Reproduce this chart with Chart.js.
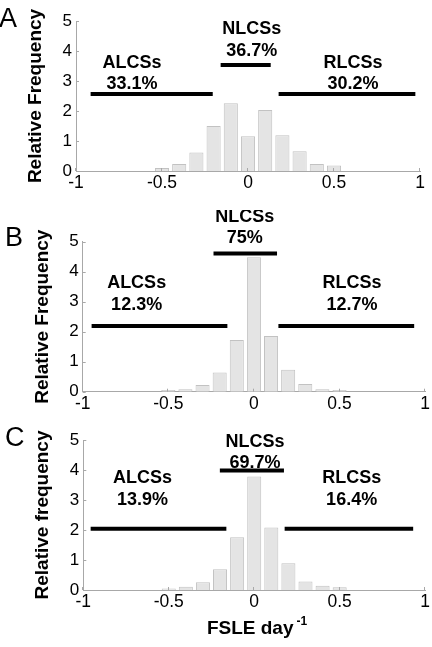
<!DOCTYPE html>
<html>
<head>
<meta charset="utf-8">
<script src="https://cdn.jsdelivr.net/npm/chart.js@4.4.0/dist/chart.umd.min.js"></script>
<style>
  html, body { margin: 0; padding: 0; background: #fff; }
  #wrap { position: relative; width: 432px; height: 647px; }
  .panel { position: absolute; left: 0; width: 432px; }
</style>
</head>
<body>
<div id="wrap">
  <div class="panel" style="top:0"><canvas id="chartA" width="432" height="210"></canvas></div>
  <div class="panel" style="top:210px"><canvas id="chartB" width="432" height="210"></canvas></div>
  <div class="panel" style="top:420px"><canvas id="chartC" width="432" height="227"></canvas></div>
</div>
<script>
// histogram bin centres (FSLE day^-1)
const binCenters = [-0.5, -0.4, -0.3, -0.2, -0.1, 0, 0.1, 0.2, 0.3, 0.4, 0.5];
const freqA = [0.10, 0.23, 0.62, 1.50, 2.26, 1.16, 2.03, 1.19, 0.66, 0.23, 0.18];
const freqB = [0.06, 0.08, 0.22, 0.64, 1.72, 4.48, 1.86, 0.73, 0.26, 0.08, 0.06];
const freqC = [0.05, 0.11, 0.26, 0.69, 1.76, 3.78, 2.08, 0.89, 0.28, 0.14, 0.09];

const xTicks = [-1, -0.5, 0, 0.5, 1];
const yTicks = [0, 1, 2, 3, 4, 5];

const groups = ['ALCSs', 'NLCSs', 'RLCSs'];
const pctA = ['33.1%', '36.7%', '30.2%'];
const pctB = ['12.3%', '75%', '12.7%'];
const pctC = ['13.9%', '69.7%', '16.4%'];

// black range bars: [from, to, level]
const rangesA = [[-0.915, -0.205, 2.57], [-0.159, 0.132, 3.53], [0.178, 0.973, 2.57]];
const rangesB = [[-0.948, -0.155, 2.19], [-0.236, 0.135, 4.61], [0.143, 0.936, 2.19]];
const rangesC = [[-0.957, -0.163, 2.04], [-0.201, 0.174, 3.98], [0.178, 0.930, 2.04]];

// where the group labels sit (x, name y, percent y), in axis units
const anchorsA = [[-0.674, 3.64, 2.96], [0.022, 4.78, 4.06], [0.610, 3.64, 2.96]];
const anchorsB = [[-0.685, 3.67, 2.95], [-0.054, 5.89, 5.16], [0.573, 3.67, 2.95]];
const anchorsC = [[-0.653, 3.78, 3.06], [0.004, 4.99, 4.28], [0.570, 3.78, 3.06]];

const FONT = "'Liberation Sans', Arial, Helvetica, sans-serif";
const AXIS = '#a8a8a8';

function makePanel(p) {
  const overlay = {
    id: 'overlay' + p.letter,
    afterDraw(chart) {
      const { ctx, scales: { x, y }, chartArea } = chart;
      ctx.save();
      // inward tick marks
      ctx.strokeStyle = AXIS;
      ctx.lineWidth = 1;
      ctx.beginPath();
      yTicks.forEach(v => {
        const py = Math.round(y.getPixelForValue(v)) + 0.5;
        ctx.moveTo(chartArea.left, py);
        ctx.lineTo(chartArea.left + 3, py);
      });
      xTicks.forEach(v => {
        const px = Math.round(x.getPixelForValue(v)) - 0.5;
        ctx.moveTo(px, chartArea.bottom);
        ctx.lineTo(px, chartArea.bottom - 3);
      });
      ctx.stroke();

      // group labels
      ctx.fillStyle = '#000';
      ctx.textAlign = 'center';
      ctx.textBaseline = 'alphabetic';
      ctx.font = 'bold 18px ' + FONT;
      p.anchors.forEach((a, i) => {
        const px = x.getPixelForValue(a[0]);
        ctx.fillText(groups[i], px, y.getPixelForValue(a[1]) + 6.5);
        ctx.fillText(p.pct[i], px, y.getPixelForValue(a[2]) + 6.5);
      });

      // panel letter
      ctx.textAlign = 'left';
      ctx.font = '27px ' + FONT;
      ctx.fillText(p.letter, p.letterPos[0], p.letterPos[1]);

      // x axis title with superscript
      if (p.xTitle) {
        ctx.font = 'bold 19px ' + FONT;
        const main = 'FSLE day';
        const wMain = ctx.measureText(main).width;
        ctx.font = 'bold 12px ' + FONT;
        const wSup = ctx.measureText('-1').width;
        const start = 257 - (wMain + 3 + wSup) / 2;
        ctx.font = 'bold 19px ' + FONT;
        ctx.fillText(main, start, 214);
        ctx.font = 'bold 12px ' + FONT;
        ctx.fillText('-1', start + wMain + 3, 205);
      }
      ctx.restore();
    }
  };

  const datasets = p.ranges.map(r => ({
    type: 'line',
    data: [{ x: r[0], y: r[2] }, { x: r[1], y: r[2] }],
    borderColor: '#000',
    borderWidth: 4,
    borderCapStyle: 'butt',
    pointRadius: 0,
    fill: false,
    order: 1
  }));
  datasets.push({
    type: 'bar',
    data: binCenters.map((c, i) => ({ x: c, y: p.freq[i] })),
    backgroundColor: '#e4e4e4',
    borderColor: '#c2c2c2',
    borderWidth: 1,
    barPercentage: 0.82,
    categoryPercentage: 1,
    order: 2
  });

  new Chart(document.getElementById(p.id), {
    type: 'bar',
    data: { datasets },
    options: {
      responsive: false,
      animation: false,
      layout: { padding: { top: p.pad.top, right: p.pad.right, left: 0, bottom: 0 } },
      plugins: { legend: { display: false }, tooltip: { enabled: false } },
      scales: {
        x: {
          type: 'linear',
          min: -1,
          max: 1,
          offset: false,
          afterBuildTicks: s => { s.ticks = xTicks.map(v => ({ value: v })); },
          afterFit: s => { s.height = p.xh; },
          grid: { display: false, drawTicks: false, offset: false },
          border: { display: true, color: AXIS, width: 1 },
          ticks: {
            padding: 2,
            color: '#000',
            maxRotation: 0,
            autoSkip: false,
            font: { family: FONT, size: 17.5 },
            callback: v => String(v)
          }
        },
        y: {
          min: 0,
          max: 5,
          afterBuildTicks: s => { s.ticks = yTicks.map(v => ({ value: v })); },
          afterFit: s => { s.width = p.yw; },
          grid: { display: false, drawTicks: false },
          border: { display: true, color: AXIS, width: 1 },
          ticks: {
            padding: 4,
            color: '#000',
            font: { family: FONT, size: 17 },
            callback: v => String(v)
          },
          title: {
            display: true,
            text: p.yTitle,
            color: '#000',
            font: { family: FONT, size: 19, weight: 'bold' },
            padding: { top: p.titlePad, bottom: 0 }
          }
        }
      }
    },
    plugins: [overlay]
  });
}

makePanel({ id: 'chartA', letter: 'A', freq: freqA, ranges: rangesA, pct: pctA, anchors: anchorsA,
  yTitle: 'Relative Frequency', pad: { top: 21, right: 12 }, yw: 76, xh: 39, titlePad: 24, letterPos: [-1, 27] });
makePanel({ id: 'chartB', letter: 'B', freq: freqB, ranges: rangesB, pct: pctB, anchors: anchorsB,
  yTitle: 'Relative Frequency', pad: { top: 31.7, right: 4.7 }, yw: 82.7, xh: 28.3, titlePad: 31, letterPos: [5, 36] });
makePanel({ id: 'chartC', letter: 'C', freq: freqC, ranges: rangesC, pct: pctC, anchors: anchorsC,
  yTitle: 'Relative frequency', pad: { top: 20, right: 4.7 }, yw: 83.3, xh: 57, titlePad: 31, letterPos: [5, 26], xTitle: true });
</script>
</body>
</html>
